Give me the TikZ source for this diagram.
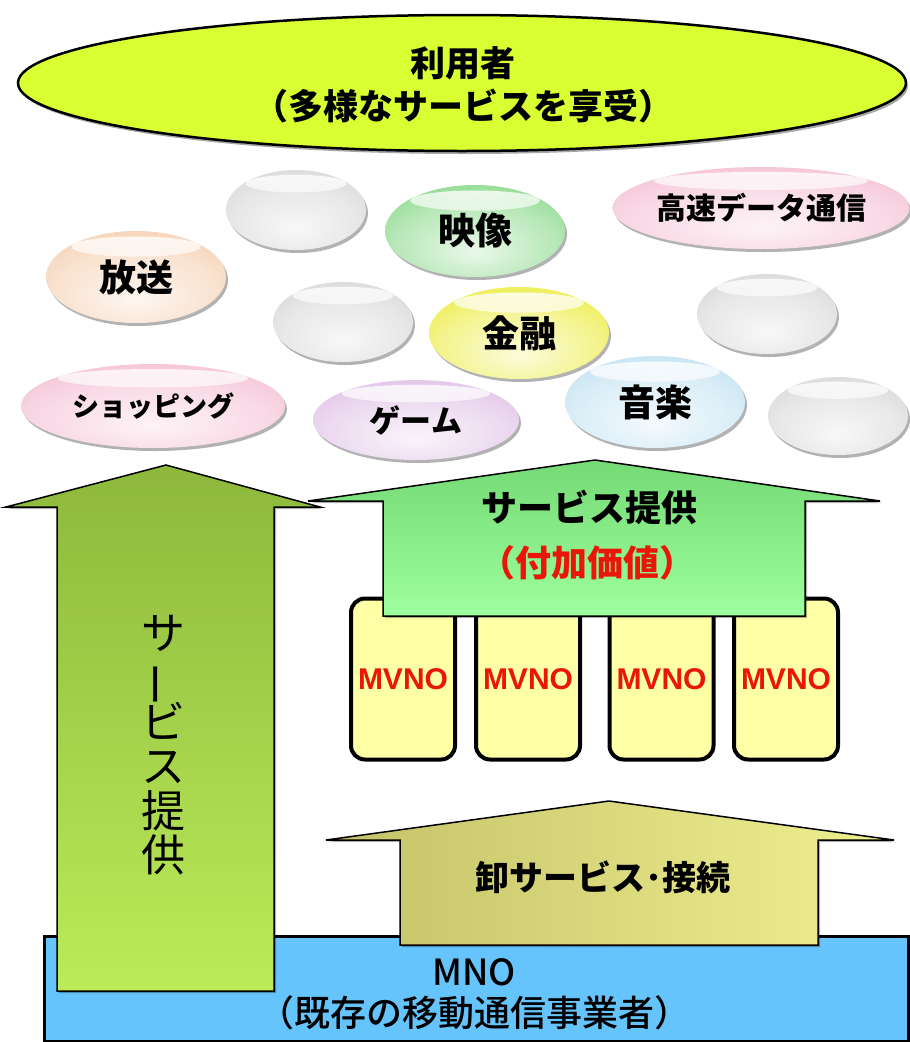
\documentclass[tikz,border=0pt]{standalone}
\usepackage{fontspec}
\setmainfont{Noto Sans CJK JP}
\newfontfamily\latinfont{Liberation Sans}
\newfontfamily\jpmed{Noto Sans CJK JP Medium}
\usetikzlibrary{shapes.geometric,shadows,calc,fadings}

\definecolor{topfill}{HTML}{D9FF33}
\definecolor{leafdark}{HTML}{8DB83C}
\definecolor{leaflight}{HTML}{BBEB58}
\definecolor{svcdark}{HTML}{74DA74}
\definecolor{svclight}{HTML}{9DFF9D}
\definecolor{wholeleft}{HTML}{C4C168}
\definecolor{wholeright}{HTML}{F0F090}
\definecolor{mnofill}{HTML}{66C4FC}
\definecolor{mvnofill}{HTML}{FFFFA6}
\definecolor{redtxt}{HTML}{E8170A}
\definecolor{cgreen}{HTML}{6FD06F}
\definecolor{cpink}{HTML}{F2B0CA}
\definecolor{cpeach}{HTML}{F3C5A0}
\definecolor{cyellow}{HTML}{E8E818}
\definecolor{clav}{HTML}{D8B2E0}
\definecolor{cblue}{HTML}{B4DCF0}
\definecolor{cwhite}{HTML}{CFCFCF}
\colorlet{bubin}{white}
\colorlet{bubout}{gray}

\pgfdeclareradialshading[bubin,bubout]{glossy}{\pgfpoint{0bp}{-12bp}}{%
  color(0bp)=(bubin); color(22bp)=(bubin!60!bubout); color(44bp)=(bubout);
  color(57bp)=(bubout!88!black); color(70bp)=(bubout!88!black)}

\tikzset{
  hl/.style={path picture={
    \fill[white, path fading=south, fill opacity=0.85] let \p1=(path picture bounding box.south west),
      \p2=(path picture bounding box.north east) in
      ({(\x1+\x2)/2},{\y2-0.17*(\y2-\y1)}) ellipse
      [x radius={0.36*(\x2-\x1)}, y radius={0.11*(\y2-\y1)}];}},
  bubble/.style={ellipse, inner sep=0pt, shade, shading=glossy,
    /utils/exec={\colorlet{bubout}{#1}\colorlet{bubin}{#1!15!white}},
    drop shadow={shadow xshift=2pt, shadow yshift=-3pt, opacity=0.3, fill=black},
    hl, font=\bfseries, text=black},
  arrowshape/.style={draw=black, line width=1.5pt, line join=miter,
    drop shadow={shadow xshift=2pt, shadow yshift=-2pt, opacity=0.3, fill=black}},
  mvno/.style={draw=black, line width=4pt, rounded corners=14pt, fill=mvnofill,
    minimum width=104pt, minimum height=161pt, inner sep=0pt,
    font=\latinfont\bfseries\fontsize{30}{30}\selectfont, text=redtxt},
  lbl/.style={inner sep=0pt, align=center, text=black},
}

\begin{document}
\begin{tikzpicture}[x=1pt,y=-1pt]
\useasboundingbox (0,0) rectangle (910,1042);

% top ellipse
\node[ellipse, draw=black, line width=2.5pt, fill=topfill, minimum width=888pt,
  minimum height=136pt, inner sep=0pt,
  drop shadow={shadow xshift=2pt, shadow yshift=-3pt, opacity=0.35, fill=black}]
  (user) at (462,83) {};
\node[lbl, font=\bfseries\fontsize{35}{43}\selectfont] (usertxt) at (463,85)
  {利用者\\（多様なサービスを享受）};

% bubbles
\node[bubble=cwhite, minimum width=140pt, minimum height=80pt] (w1) at (296,210) {};
\node[bubble=cgreen, minimum width=180pt, minimum height=92pt,
  font=\bfseries\fontsize{37}{37}\selectfont] (eizo) at (475,231) {映像};
\node[bubble=cpink, minimum width=262pt, minimum height=82pt,
  font=\bfseries\fontsize{30}{30}\selectfont] (kosoku) at (761,208) {高速データ通信};
\node[bubble=cpeach, minimum width=180pt, minimum height=92pt,
  font=\bfseries\fontsize{37}{37}\selectfont] (hoso) at (136,277) {放送};
\node[bubble=cwhite, minimum width=140pt, minimum height=80pt] (w2) at (343,322) {};
\node[bubble=cyellow, minimum width=180pt, minimum height=92pt,
  font=\bfseries\fontsize{37}{37}\selectfont] (kinyu) at (519,333) {金融};
\node[bubble=cwhite, minimum width=140pt, minimum height=80pt] (w3) at (767,314) {};
\node[bubble=cpink, minimum width=264pt, minimum height=84pt,
  font=\bfseries\fontsize{27}{27}\selectfont] (shop) at (153,406) {ショッピング};
\node[bubble=clav, minimum width=206pt, minimum height=80pt,
  font=\bfseries\fontsize{31}{31}\selectfont] (game) at (416,420) {ゲーム};
\node[bubble=cblue, minimum width=180pt, minimum height=92pt,
  font=\bfseries\fontsize{37}{37}\selectfont] (ongaku) at (655,402) {音楽};
\node[bubble=cwhite, minimum width=140pt, minimum height=78pt] (w4) at (838,416) {};

% MNO base
\node[draw=black, line width=3pt, fill=mnofill, minimum width=864pt,
  minimum height=105pt, inner sep=0pt, anchor=north west] (mno) at (43,935) {};
\node[lbl, font=\jpmed\fontsize{36}{36}\selectfont] (mnotxt) at (474,972) {MNO};
\node[lbl, font=\jpmed\fontsize{36}{36}\selectfont] (mnotxt2) at (474,1013) {（既存の移動通信事業者）};

% left vertical arrow
\path[arrowshape, top color=leafdark, bottom color=leaflight]
  (57,991) -- (57,507) -- (6,507) -- (166,465) -- (320,507) -- (274,507) -- (274,991) -- cycle;
\node[lbl, font=\fontsize{44}{44.5}\selectfont] (vtxt) at (163,745)
  {サ\\\smash{\rotatebox[origin=c]{90}{ー}}\\ビ\\ス\\提\\供};

% wholesale arrow
\path[arrowshape, left color=wholeleft, right color=wholeright]
  (400,945) -- (400,840) -- (326,840) -- (609,801) -- (894,840) -- (818,840) -- (818,945) -- cycle;
\node[lbl, font=\bfseries\fontsize{34}{34}\selectfont] (whtxt) at (603,877) {卸サービス･接続};

% MVNO boxes
\node[mvno] (v1) at (403,679) {MVNO};
\node[mvno] (v2) at (528,679) {MVNO};
\node[mvno] (v3) at (661.5,679) {MVNO};
\node[mvno] (v4) at (786,679) {MVNO};

% service arrow
\path[arrowshape, top color=svcdark, bottom color=svclight]
  (383,616) -- (383,501) -- (308,501) -- (595,460) -- (880,501) -- (805,501) -- (805,616) -- cycle;
\node[lbl, font=\bfseries\fontsize{36}{36}\selectfont] (svctxt) at (589,507) {サービス提供};
\node[lbl, font=\bfseries\fontsize{36}{36}\selectfont, text=redtxt] (svctxt2) at (587,563) {（付加価値）};
\end{tikzpicture}
\end{document}
